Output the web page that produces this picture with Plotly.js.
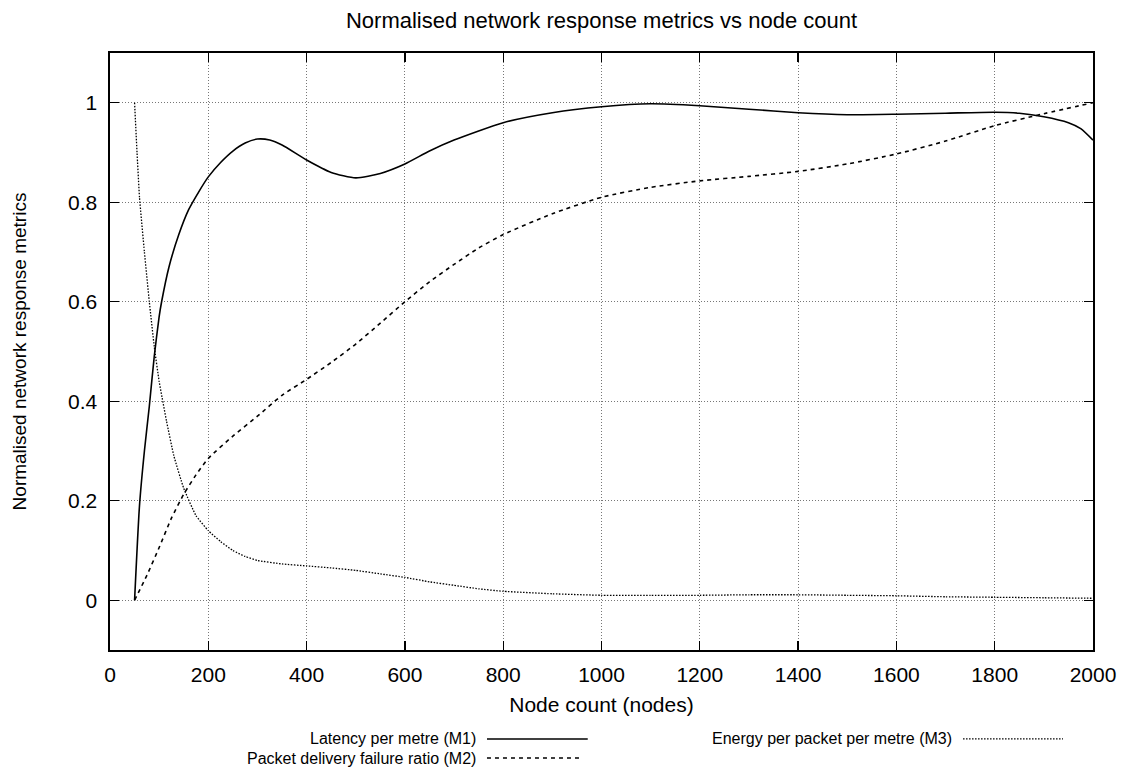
<!DOCTYPE html>
<html>
<head>
<meta charset="utf-8">
<script src="https://cdn.plot.ly/plotly-3.0.1.min.js"></script>
<style>html,body{margin:0;padding:0;background:#fff;}#chart{width:1126px;height:771px;}</style>
</head>
<body>
<div id="chart"></div>
<script>
// ---- data ----
var m1X = [50, 60, 70, 80, 90, 100, 105, 120, 140, 160, 180, 200, 225, 250, 275, 300, 325, 350, 400, 450, 500, 550, 600, 650, 700, 800, 900, 1000, 1100, 1200, 1300, 1400, 1500, 1600, 1700, 1800, 1850, 1900, 1950, 1975, 2000];
var m1Y = [0, 0.19, 0.30, 0.39, 0.49, 0.57, 0.60, 0.67, 0.735, 0.785, 0.82, 0.851, 0.88, 0.903, 0.919, 0.927, 0.925, 0.915, 0.885, 0.86, 0.849, 0.858, 0.877, 0.903, 0.925, 0.96, 0.98, 0.992, 0.998, 0.994, 0.987, 0.98, 0.976, 0.977, 0.979, 0.981, 0.979, 0.972, 0.96, 0.948, 0.925];

var m2X = [50, 75, 100, 125, 150, 175, 200, 250, 300, 350, 400, 450, 500, 550, 600, 650, 700, 750, 800, 900, 1000, 1100, 1200, 1300, 1400, 1500, 1600, 1700, 1800, 1900, 2000];
var m2Y = [0, 0.05, 0.106, 0.165, 0.213, 0.252, 0.285, 0.33, 0.37, 0.412, 0.444, 0.478, 0.515, 0.557, 0.6, 0.64, 0.675, 0.708, 0.735, 0.777, 0.81, 0.83, 0.843, 0.852, 0.862, 0.877, 0.897, 0.923, 0.954, 0.978, 1.0];

var m3X = [50, 55, 60, 70, 80, 90, 100, 115, 130, 150, 175, 200, 225, 250, 275, 300, 350, 400, 450, 500, 550, 600, 650, 700, 750, 800, 900, 1000, 1100, 1200, 1300, 1400, 1500, 1600, 1700, 1800, 1900, 2000];
var m3Y = [1.0, 0.9, 0.81, 0.70, 0.60, 0.51, 0.44, 0.36, 0.29, 0.225, 0.17, 0.14, 0.118, 0.1, 0.088, 0.08, 0.073, 0.069, 0.065, 0.06, 0.053, 0.046, 0.037, 0.03, 0.023, 0.018, 0.013, 0.01, 0.01, 0.01, 0.011, 0.011, 0.01, 0.009, 0.007, 0.006, 0.005, 0.004];

var seriesNames = ['Latency per metre (M1)', 'Packet delivery failure ratio (M2)', 'Energy per packet per metre (M3)'];
var xTickVals = [0, 200, 400, 600, 800, 1000, 1200, 1400, 1600, 1800, 2000];
var yTickVals = [0, 0.2, 0.4, 0.6, 0.8, 1];
var yTickText = ['0', '0.2', '0.4', '0.6', '0.8', '1'];

// ---- styling ----
var FONT = 'Liberation Sans, Arial, sans-serif';
var dashes = ['solid', '4px,4px', '1.5px,1.5px'];
var widths = [1.6, 1.6, 1.3];

var traces = [
  {x: m1X, y: m1Y, name: seriesNames[0], mode: 'lines', line: {color: '#000', width: widths[0], dash: dashes[0], shape: 'spline', smoothing: 0.6}, showlegend: false},
  {x: m2X, y: m2Y, name: seriesNames[1], mode: 'lines', line: {color: '#000', width: widths[1], dash: dashes[1], shape: 'spline', smoothing: 0.6}, showlegend: false},
  {x: m3X, y: m3Y, name: seriesNames[2], mode: 'lines', line: {color: '#000', width: widths[2], dash: dashes[2], shape: 'spline', smoothing: 0.4}, showlegend: false}
];

// gnuplot-style key (text right-aligned, sample on the right)
var legendPos = [
  {tx: 0.373, y: -0.149, x0: 0.3835, x1: 0.486},
  {tx: 0.373, y: -0.181, x0: 0.3835, x1: 0.481},
  {tx: 0.8576, y: -0.149, x0: 0.8678, x1: 0.9695}
];
var annotations = [];
var shapes = [];
for (var i = 0; i < 3; i++) {
  var p = legendPos[i];
  annotations.push({xref: 'paper', yref: 'paper', x: p.tx, y: p.y, xanchor: 'right', yanchor: 'middle',
    text: seriesNames[i], showarrow: false, borderpad: 0, font: {family: FONT, size: 16, color: '#000'}});
  shapes.push({type: 'line', xref: 'paper', yref: 'paper', x0: p.x0, x1: p.x1, y0: p.y, y1: p.y,
    line: {color: '#000', width: widths[i], dash: dashes[i]}});
}

var layout = {
  width: 1126, height: 771,
  paper_bgcolor: '#fff', plot_bgcolor: '#fff',
  margin: {l: 110, r: 33, t: 53, b: 121},
  font: {family: FONT, size: 20, color: '#000'},
  title: {text: 'Normalised network response metrics vs node count', xref: 'paper', x: 0.5, xanchor: 'center', yref: 'container', y: 0.974, yanchor: 'middle', font: {family: FONT, size: 22, color: '#000'}},
  xaxis: {
    range: [0, 2000], tickvals: xTickVals, ticktext: xTickVals.map(String),
    ticks: 'inside', ticklen: 9, tickwidth: 1.3, tickcolor: '#000',
    showline: true, linecolor: '#000', linewidth: 1.6, mirror: 'ticks',
    showgrid: true, gridcolor: '#777', gridwidth: 1, griddash: '1px,2px',
    zeroline: false, ticklabelstandoff: 5, tickfont: {family: FONT, size: 21, color: '#000'},
    title: {text: 'Node count (nodes)', font: {family: FONT, size: 21, color: '#000'}, standoff: 12}
  },
  yaxis: {
    range: [-0.1, 1.1], tickvals: yTickVals, ticktext: yTickText,
    ticks: 'inside', ticklen: 9, tickwidth: 1.3, tickcolor: '#000',
    showline: true, linecolor: '#000', linewidth: 1.6, mirror: 'ticks',
    showgrid: true, gridcolor: '#777', gridwidth: 1, griddash: '1px,2px',
    zeroline: false, ticklabelstandoff: 7, tickfont: {family: FONT, size: 21, color: '#000'},
    title: {text: 'Normalised network response metrics', font: {family: FONT, size: 19, color: '#000'}, standoff: 36}
  },
  annotations: annotations,
  shapes: shapes,
  showlegend: false
};

Plotly.newPlot('chart', traces, layout, {displayModeBar: false, staticPlot: true});
</script>
</body>
</html>
